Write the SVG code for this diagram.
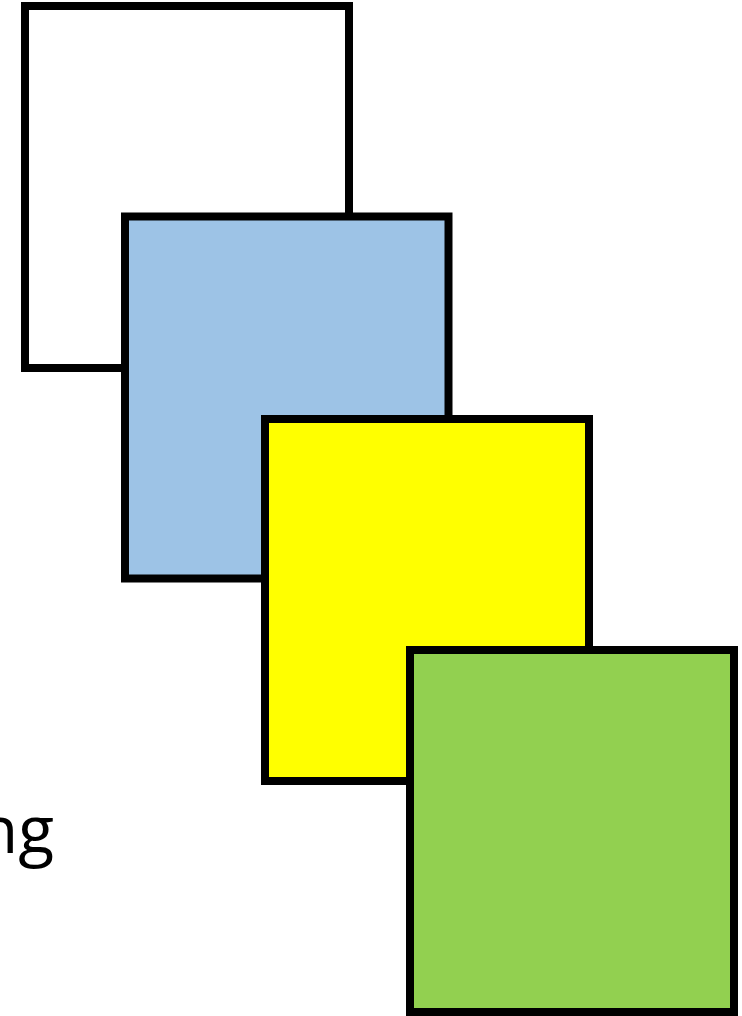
<svg xmlns="http://www.w3.org/2000/svg" width="742" height="1016" viewBox="0 0 742 1016">
<style>
.box{stroke:#000;stroke-width:8}
.lbl{font-family:"Open Sans","Liberation Sans",sans-serif;font-size:66px;fill:#000}
</style>
<rect width="742" height="1016" fill="#fff"/>
<g id="label"><text class="lbl" x="54" y="853" text-anchor="end">ng</text></g>
<g id="node-white"><rect class="box" x="25" y="6" width="324" height="362" fill="#fff"/></g>
<g id="node-blue"><rect class="box" x="125" y="216.5" width="323.5" height="362" fill="#9dc3e6"/></g>
<g id="node-yellow"><rect class="box" x="265" y="419" width="324" height="362" fill="#ffff00"/></g>
<g id="node-green"><rect class="box" x="410" y="650" width="324" height="362" fill="#92d050"/></g>
<g id="connectors"></g>
</svg>
